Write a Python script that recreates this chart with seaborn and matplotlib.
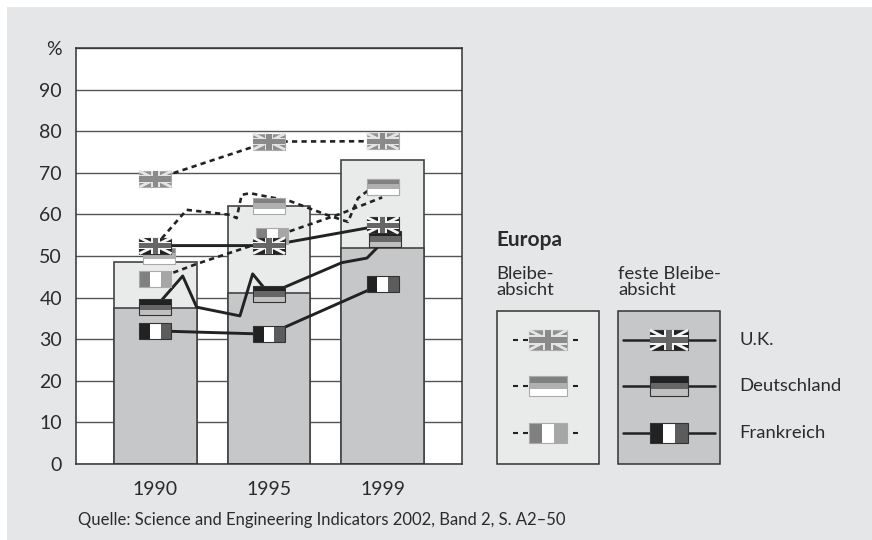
import matplotlib
matplotlib.use("Agg")
import matplotlib.pyplot as plt
import seaborn as sns
from matplotlib.patches import Rectangle

sns.set_theme(style="white")
plt.rcParams['font.family'] = ['Lato', 'DejaVu Sans']

# --- Data ---
years = ["1990", "1995", "1999"]
total_intent = [48.5, 62, 73]
firm_intent = [37.5, 41, 52]

# line paths, x in category positions (the original lines have kinks between the years)
uk_dash_x = [0, 1, 2]
uk_dash_y = [68.5, 77.5, 77.6]
de_dash_x = [0, 0.275, 0.656, 0.715, 0.759, 0.833, 1.185, 1.508, 1.696, 1.784, 1.861, 2]
de_dash_y = [52.5, 61.1, 59.9, 59.1, 64.7, 65.1, 63.2, 59.9, 58.2, 63.9, 65.5, 66.7]
fr_dash_x = [0, 0.363, 0.859, 1.167, 1.626, 1.997]
fr_dash_y = [44.4, 48.1, 52.6, 55.8, 60.1, 64.1]
uk_solid_x = [0, 1, 2]
uk_solid_y = [52.5, 52.5, 57.4]
de_solid_x = [0, 0.24, 0.363, 0.744, 0.856, 1, 1.641, 1.863, 1.96, 2.026]
de_solid_y = [37.7, 45.2, 37.7, 35.6, 45.7, 40.9, 48.4, 49.5, 52.2, 54.1]
fr_solid_x = [0, 1, 2]
fr_solid_y = [32, 31.2, 43.3]

# flag positions
uk_dash_fx, uk_dash_fy = [0, 1, 2], [68.5, 77.5, 77.6]
de_dash_fx, de_dash_fy = [0.03, 1, 2], [50, 62, 66.7]
fr_dash_fx, fr_dash_fy = [0, 1.03, 2], [44.4, 54.8, 66.6]
uk_solid_fx, uk_solid_fy = [0, 1, 2], [52.5, 52.5, 57.4]
de_solid_fx, de_solid_fy = [0, 1, 2.026], [37.7, 40.9, 54.1]
fr_solid_fx, fr_solid_fy = [0, 1, 2], [32, 31.2, 43.3]

y_ticks = [0, 10, 20, 30, 40, 50, 60, 70, 80, 90, 100]
y_labels = ["0", "10", "20", "30", "40", "50", "60", "70", "80", "90", "%"]

legend_head = "Europa"
legend_col1 = "Bleibe-\nabsicht"
legend_col2 = "feste Bleibe-\nabsicht"
legend_names = ["U.K.", "Deutschland", "Frankreich"]
source = "Quelle: Science and Engineering Indicators 2002, Band 2, S. A2\u201350"

# colours
PANEL = "#e5e6e8"
LIGHT = "#e9ebea"
MID = "#c6c7c9"
EDGE = "#444444"
INK = "#2b2b2b"
DARK = "#222222"


def flag_uk(ax, cx, cy, w, h, faded, z):
    x0, y0 = cx - w / 2, cy - h / 2
    bg = "#8f8f8f" if faded else DARK
    cross = "#8a8a8a" if faded else "#666666"
    diag = "#e4e4e4" if faded else "#f5f5f5"
    box = Rectangle((x0, y0), w, h, fc=bg, ec="#aaaaaa" if faded else "#333333", lw=0.8, zorder=z)
    ax.add_patch(box)
    for a, b in [((x0, y0), (x0 + w, y0 + h)), ((x0, y0 + h), (x0 + w, y0))]:
        ax.plot([a[0], b[0]], [a[1], b[1]], color=diag, lw=2.0, zorder=z + 0.1,
                clip_path=box, solid_capstyle="butt")
    ax.add_patch(Rectangle((cx - w * 0.13, y0), w * 0.26, h, fc=diag, ec="none", zorder=z + 0.2))
    ax.add_patch(Rectangle((x0, cy - h * 0.24), w, h * 0.48, fc=diag, ec="none", zorder=z + 0.2))
    ax.add_patch(Rectangle((cx - w * 0.09, y0), w * 0.18, h, fc=cross, ec="none", zorder=z + 0.3))
    ax.add_patch(Rectangle((x0, cy - h * 0.16), w, h * 0.32, fc=cross, ec="none", zorder=z + 0.3))


def flag_de(ax, cx, cy, w, h, faded, z, up=1):
    x0, y0 = cx - w / 2, cy - h / 2
    cols = ["#808080", "#b0b0b0", "#ffffff"] if faded else [DARK, "#666666", "#c0c0c0"]
    for i, c in enumerate(cols):
        # stripes from the top of the flag downwards
        yy = y0 + h * (2 - i) / 3 if up == 1 else y0 + h * i / 3
        ax.add_patch(Rectangle((x0, yy), w, h / 3, fc=c, ec="none", zorder=z))
    ax.add_patch(Rectangle((x0, y0), w, h, fc="none", ec="#aaaaaa" if faded else "#333333",
                           lw=0.8, zorder=z + 0.1))


def flag_fr(ax, cx, cy, w, h, faded, z):
    x0, y0 = cx - w / 2, cy - h / 2
    cols = ["#808080", "#ffffff", "#a6a6a6"] if faded else [DARK, "#ffffff", "#5c5c5c"]
    for i, c in enumerate(cols):
        ax.add_patch(Rectangle((x0 + w * i / 3, y0), w / 3, h, fc=c, ec="none", zorder=z))
    ax.add_patch(Rectangle((x0, y0), w, h, fc="none", ec="#aaaaaa" if faded else "#333333",
                           lw=0.8, zorder=z + 0.1))


fig = plt.figure(figsize=(8.72, 5.40), dpi=100, facecolor="white")

# grey panel behind everything, white strip on top and left
fig.add_artist(Rectangle((7 / 872, 0), 865 / 872, 533 / 540, transform=fig.transFigure,
                         fc=PANEL, ec="none", zorder=-5))

ax = fig.add_axes([76 / 872, 1 - 464 / 540, 386 / 872, 416 / 540])
ax.set_facecolor("white")

sns.barplot(x=years, y=total_intent, color=LIGHT, saturation=1, width=0.73,
            edgecolor=EDGE, linewidth=1.2, ax=ax, zorder=2)
sns.barplot(x=years, y=firm_intent, color=MID, saturation=1, width=0.73,
            edgecolor=EDGE, linewidth=1.2, ax=ax, zorder=2.5)

ax.set_xlim(-0.70, 2.70)
ax.set_ylim(0, 100)
ax.set_yticks(y_ticks)
ax.set_yticklabels(y_labels)
ax.yaxis.grid(True, color="#555555", lw=1.0, zorder=1)
ax.set_axisbelow(True)
ax.tick_params(axis="both", length=0, labelsize=14, labelcolor=INK)
ax.tick_params(axis="x", pad=12)
ax.tick_params(axis="y", pad=10)
ax.set_xlabel("")
ax.set_ylabel("")
for s in ax.spines.values():
    s.set_color("#333333")
    s.set_linewidth(1.1)
    s.set_visible(True)

dash_style = (0, (2, 1.6))
for xs, ys in [(uk_dash_x, uk_dash_y), (de_dash_x, de_dash_y), (fr_dash_x, fr_dash_y)]:
    sns.lineplot(x=xs, y=ys, sort=False, estimator=None, color="#222222", lw=1.9,
                 linestyle=dash_style, ax=ax, zorder=3)
for xs, ys in [(uk_solid_x, uk_solid_y), (de_solid_x, de_solid_y), (fr_solid_x, fr_solid_y)]:
    sns.lineplot(x=xs, y=ys, sort=False, estimator=None, color="#222222", lw=2.1,
                 ax=ax, zorder=3.5)

FW, FH = 32 / 113.5, 16 / 4.16
for x, y in zip(fr_dash_fx, fr_dash_fy):
    flag_fr(ax, x, y, FW, FH, True, 4)
for x, y in zip(de_dash_fx, de_dash_fy):
    flag_de(ax, x, y, FW, FH, True, 4.5)
for x, y in zip(uk_dash_fx, uk_dash_fy):
    flag_uk(ax, x, y, FW, FH, True, 5)
for x, y in zip(fr_solid_fx, fr_solid_fy):
    flag_fr(ax, x, y, FW, FH, False, 6)
for x, y in zip(de_solid_fx, de_solid_fy):
    flag_de(ax, x, y, FW, FH, False, 6.5)
for x, y in zip(uk_solid_fx, uk_solid_fy):
    flag_uk(ax, x, y, FW, FH, False, 7)

# legend part, in an overlay that counts in pixels
lg = fig.add_axes([0, 0, 1, 1], facecolor="none")
lg.set_xlim(0, 872)
lg.set_ylim(540, 0)
lg.axis("off")

lg.text(496, 240, legend_head, fontsize=15, fontweight="bold", color=INK, va="center", ha="left")
lg.text(496, 282, legend_col1, fontsize=13.3, color=INK, va="center", ha="left", linespacing=1.0)
lg.text(618, 282, legend_col2, fontsize=13.3, color=INK, va="center", ha="left", linespacing=1.0)
lg.add_patch(Rectangle((497, 311), 102, 153, fc=LIGHT, ec="#333333", lw=1.1))
lg.add_patch(Rectangle((618, 311), 102, 153, fc=MID, ec="#333333", lw=1.1))

row_y = [340, 386, 433]
makers = [flag_uk, flag_de, flag_fr]
for ry, make, name in zip(row_y, makers, legend_names):
    lg.plot([513, 583], [ry, ry], color=DARK, lw=1.5, linestyle=(0, (2.4, 2.4)), zorder=2)
    lg.plot([623, 715], [ry, ry], color=DARK, lw=1.8, zorder=2)
    if make is flag_de:
        make(lg, 548, ry, 38, 20, True, 3, up=-1)
        make(lg, 669, ry, 38, 20, False, 3, up=-1)
    else:
        make(lg, 548, ry, 38, 20, True, 3)
        make(lg, 669, ry, 38, 20, False, 3)
    lg.text(739, ry, name, fontsize=13.3, color=INK, va="center", ha="left")

lg.text(78, 520, source, fontsize=12, color=INK, va="center", ha="left")

fig.savefig("out.png", dpi=100, facecolor="white")
